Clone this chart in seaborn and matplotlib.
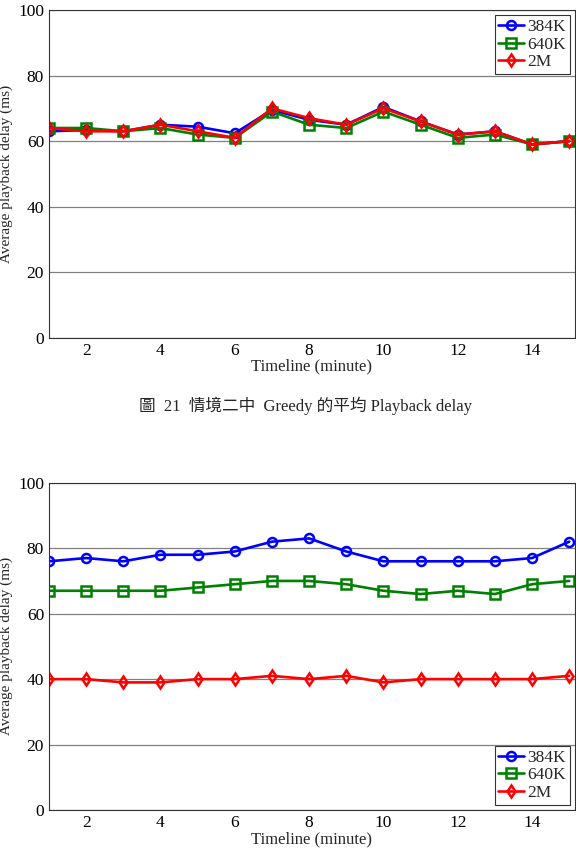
import matplotlib
matplotlib.use("Agg")
import matplotlib.pyplot as plt
import seaborn as sns
import pandas as pd

sns.set_style("white")
plt.rcParams['font.family'] = ['Liberation Serif', 'Noto Sans CJK TC']

# 資料
minutes = list(range(1, 16))
series_names = ['384K', '640K', '2M']

top_384k = [63, 63.4, 63, 65, 64.4, 62.4, 69.5, 66.5, 65, 70.4, 66, 62, 63, 59, 60]
top_640k = [64, 64, 63, 64, 62, 61, 69, 65, 64, 69, 65, 61, 62, 59, 60]
top_2m = [64, 63, 63, 65, 63, 61, 70, 67, 65, 70, 66, 62, 63, 59, 60]

bot_384k = [76, 77, 76, 78, 78, 79, 82, 83, 79, 76, 76, 76, 76, 77, 82]
bot_640k = [67, 67, 67, 67, 68, 69, 70, 70, 69, 67, 66, 67, 66, 69, 70]
bot_2m = [40, 40, 39, 39, 40, 40, 41, 40, 41, 39, 40, 40, 40, 40, 41]

colors = ['#0000ff', '#008000', '#ff0000']
markers = ['o', 's', 'd']

caption = '圖  21  情境二中  Greedy 的平均 Playback delay'

fig = plt.figure(figsize=(5.76, 8.59), dpi=100)
ax1 = fig.add_axes([0.085, 0.6065, 0.913, 0.382])
ax2 = fig.add_axes([0.085, 0.057, 0.913, 0.381])


def draw(ax, values, legend_loc):
    for name, vals, c, m in zip(series_names, values, colors, markers):
        df = pd.DataFrame({'minute': minutes, 'delay': vals})
        sns.lineplot(data=df, x='minute', y='delay', ax=ax, color=c, lw=1.9,
                     marker=m, markersize=6.5,
                     mfc='none', mec=c, mew=1.8, label=name)
    ax.set_xlim(1, 15.15)
    ax.set_ylim(0, 100)
    ax.set_xticks([2, 4, 6, 8, 10, 12, 14])
    ax.set_yticks([0, 20, 40, 60, 80, 100])
    ax.yaxis.grid(True, color='#808080', lw=0.9)
    ax.set_axisbelow(True)
    for s in ax.spines.values():
        s.set_color('#333333')
        s.set_linewidth(0.8)
    ax.tick_params(labelsize=12.5, direction='in', length=4, colors='black')
    ax.set_xlabel('Timeline (minute)', fontsize=12, labelpad=0)
    ax.set_ylabel('Average playback delay (ms)', fontsize=11)
    ax.yaxis.set_label_coords(-0.068, 0.5)
    leg = ax.legend(loc=legend_loc, fontsize=12.5, fancybox=False,
                    edgecolor='#333333', framealpha=1, borderpad=0.2,
                    handlelength=1.5, handletextpad=0.2, labelspacing=0.1,
                    borderaxespad=0.3)
    leg.get_frame().set_linewidth(0.8)


draw(ax1, [top_384k, top_640k, top_2m], 'upper right')
draw(ax2, [bot_384k, bot_640k, bot_2m], 'lower right')

fig.text(0.53, 0.528, caption, ha='center', va='center', fontsize=12)

fig.savefig('out.png', dpi=100)
